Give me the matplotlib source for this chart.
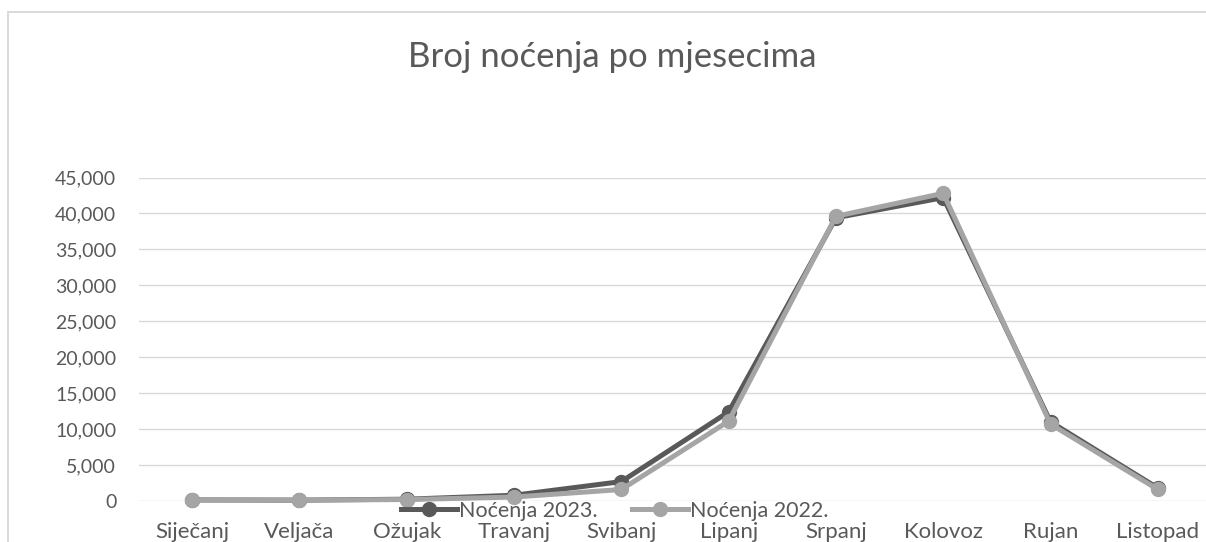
import matplotlib
matplotlib.use("Agg")
import matplotlib.pyplot as plt
from matplotlib.ticker import FuncFormatter, MultipleLocator
from matplotlib.patches import Rectangle

months = ["Siječanj", "Veljača", "Ožujak", "Travanj", "Svibanj", "Lipanj",
          "Srpanj", "Kolovoz", "Rujan", "Listopad"]
nocenja_2023 = [150, 120, 250, 800, 2700, 12400, 39400, 42200, 11000, 1800]
nocenja_2022 = [150, 130, 200, 550, 1600, 11100, 39600, 42800, 10700, 1600]

title = "Broj noćenja po mjesecima"
label_2023 = "Noćenja 2023."
label_2022 = "Noćenja 2022."

plt.rcParams['font.family'] = ['Lato', 'DejaVu Sans']
text_color = "#595959"

W, H = 1206, 542
fig = plt.figure(figsize=(W / 100, H / 100), dpi=100)

# outer chart border
fig.patches.append(Rectangle((7.5 / W, -0.1), 1.2, 1 - 12 / H + 0.1,
                             transform=fig.transFigure, fill=False,
                             edgecolor="#D9D9D9", linewidth=1.4))

ax_left, ax_right = 138.5, 1211.5
ax_bottom, ax_top = 501, 177.5
ax = fig.add_axes([ax_left / W, 1 - ax_bottom / H,
                   (ax_right - ax_left) / W, (ax_bottom - ax_top) / H])

x = list(range(len(months)))
ax.plot(x, nocenja_2023, color="#595959", lw=3.6, marker="o", ms=10,
        solid_joinstyle="round", label=label_2023, zorder=3, clip_on=False)
ax.plot(x, nocenja_2022, color="#A5A5A5", lw=3.6, marker="o", ms=10,
        solid_joinstyle="round", label=label_2022, zorder=4, clip_on=False)

ax.set_xlim(-0.5, len(months) - 0.5)
ax.set_ylim(0, 45000)
ax.yaxis.set_major_locator(MultipleLocator(5000))
ax.yaxis.set_major_formatter(FuncFormatter(lambda v, p: f"{int(v):,}"))
ax.set_xticks(x)
ax.set_xticklabels(months)
ax.grid(axis="y", color="#D9D9D9", lw=1.0)
ax.set_axisbelow(True)
for s in ax.spines.values():
    s.set_visible(False)
ax.tick_params(axis="both", length=0, colors=text_color)
ax.tick_params(axis="y", pad=16, labelsize=14)
ax.tick_params(axis="x", pad=15, labelsize=16)

fig.text(612 / W, 1 - 57 / H, title, ha="center", va="center",
         fontsize=25, color=text_color)

leg = fig.legend(loc="center", bbox_to_anchor=(615 / W, 1 - 511 / H), ncol=2,
                 frameon=False, fontsize=15.5, handlelength=2.6,
                 handletextpad=0.1, columnspacing=1.6, borderpad=0)
for t in leg.get_texts():
    t.set_color(text_color)

fig.savefig("out.png", dpi=100, facecolor="white")
